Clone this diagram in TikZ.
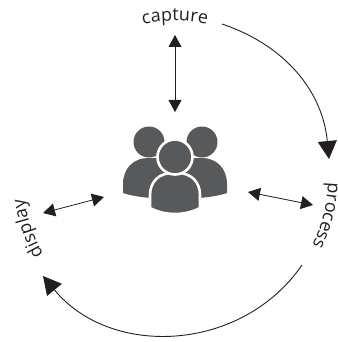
\documentclass[tikz,border=0pt]{standalone}
\usepackage{fontspec}
\setmainfont{Open Sans}
\usetikzlibrary{arrows.meta,decorations.text}
\definecolor{inkdark}{HTML}{231F20}
\definecolor{icongray}{HTML}{58595B}
\newcommand{\wordfont}{\fontsize{18}{20}\selectfont\color{inkdark}}
\tikzset{
  shortarrow/.style={draw=inkdark, line width=.8pt, {Triangle[length=12pt,width=13pt]}-{Triangle[length=12pt,width=13pt]}},
  longarrow/.style={draw=inkdark, line width=.9pt, -{Triangle[length=18pt,width=19pt]}},
  wordarc/.style={decorate, decoration={text along path, text align=center, text={|\wordfont|#1}}},
}
\begin{document}
\begin{tikzpicture}[x=1pt,y=-1pt]
\def\leftbody{(123,193) -- (123,184) .. controls (123,168) and (134,158) .. (148,158) -- (170,158) -- (170,199) -- (150,198) .. controls (141,197) and (132,196) .. (123,193) -- cycle}
\def\rightbody{(227,193) -- (227,184) .. controls (227,168) and (216,158) .. (202,158) -- (180,158) -- (180,199) -- (200,198) .. controls (209,197) and (218,196) .. (227,193) -- cycle}
\def\middlebody{(150,208) -- (150,195) .. controls (150,181) and (160,173) .. (172,173) -- (178,173) .. controls (190,173) and (200,181) .. (200,195) -- (200,208) .. controls (185,216) and (165,216) .. (150,208) -- cycle}
    \useasboundingbox (0,0) rectangle (337,342);
    % people in the middle
    \fill[icongray] (149,142) circle (15.5);
    \fill[icongray] (202,142) circle (15.5);
    \fill[icongray] \leftbody;
    \fill[icongray] \rightbody;
    \filldraw[icongray, draw=white, line width=2.6pt] \middlebody;
    \filldraw[icongray, draw=white, line width=2.6pt] (175,157) circle (17.5);
    % words on the big circle
    \path[wordarc=capture] (175,178) ++(-105:157) arc (-105:-75:157);
    \path[wordarc=process] (175,178) ++(-3:153) arc (-3:31:153);
    \path[wordarc=display] (175,178) ++(146:152) arc (146:176:152);
    % ends of the arrows
    \coordinate (captop) at (175,35);
    \coordinate (capbot) at (175,112);
    \coordinate (procin) at (248,192);
    \coordinate (procout) at (313,205);
    \coordinate (dispout) at (43,213);
    \coordinate (dispin) at (104,197);
    \coordinate (arcastart) at (222,24);
    \coordinate (arcaend) at (329,159);
    \coordinate (arcbstart) at (302,265);
    \coordinate (arcbend) at (43,276);
    \draw[shortarrow] (captop) -- (capbot);
    \draw[shortarrow] (procin) -- (procout);
    \draw[shortarrow] (dispout) -- (dispin);
    \draw[longarrow] (arcastart) to[bend left=33] (arcaend);
    \draw[longarrow] (arcbstart) to[bend left=53, looseness=1.05] (arcbend);
\end{tikzpicture}
\end{document}
